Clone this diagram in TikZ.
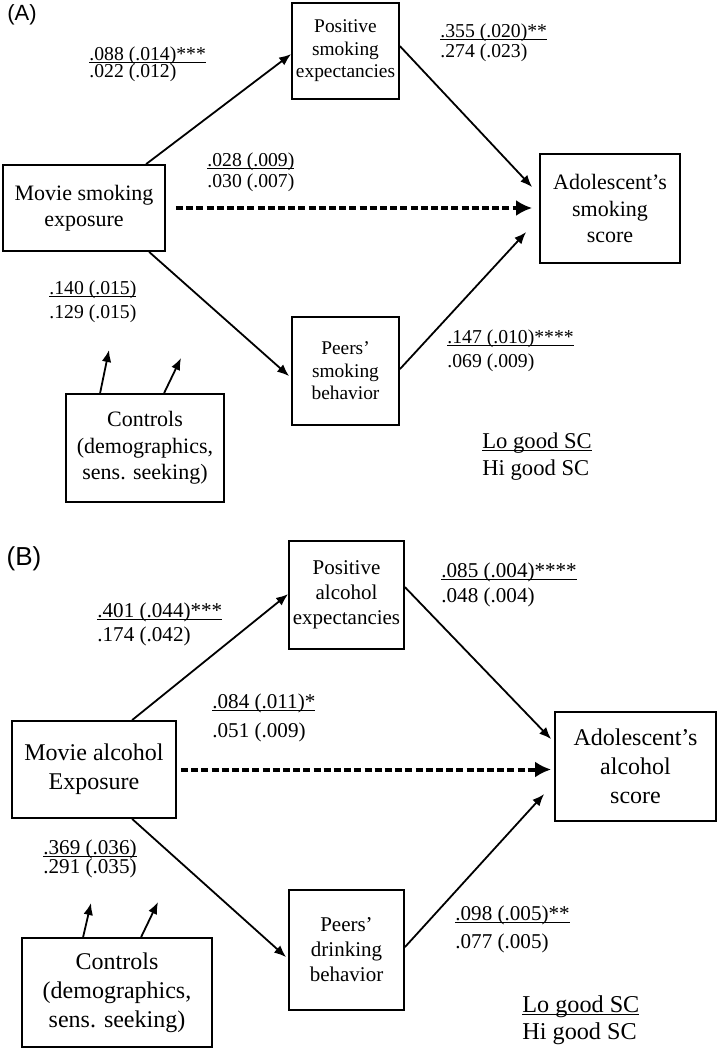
\documentclass[tikz,border=0pt]{standalone}
\usepackage{fontspec}
\setmainfont{Liberation Serif}
\newfontfamily\labsans{Liberation Sans}
\usetikzlibrary{arrows.meta,calc}
\newcommand\ulin[1]{\setbox0=\hbox{#1}\rlap{\rule[-1.6pt]{\wd0}{0.6pt}}\box0}
\begin{document}
\begin{tikzpicture}[x=0.5pt,y=-0.5pt,
 box/.style={draw,line width=0.9pt,inner sep=0pt,align=center},
 bigA/.style={box,font=\fontsize{11}{13.25}\selectfont},
 midA/.style={box,font=\fontsize{9.7}{11.25}\selectfont},
 bigB/.style={box,font=\fontsize{12}{14.5}\selectfont},
 midB/.style={box,font=\fontsize{10.5}{12.5}\selectfont},
 labA/.style={anchor=base west,inner sep=0pt,font=\fontsize{9.85}{12}\selectfont},
 labB/.style={anchor=base west,inner sep=0pt,font=\fontsize{10.55}{12}\selectfont},
 keyA/.style={anchor=base west,inner sep=0pt,font=\fontsize{11.3}{13}\selectfont},
 keyB/.style={anchor=base west,inner sep=0pt,font=\fontsize{12.1}{14}\selectfont},
 arr/.style={line width=0.9pt,-{Latex[length=6pt,width=4.8pt]}},
 dotarr/.style={line width=2pt,dash pattern=on 3.5pt off 1.6pt,-{Latex[length=8pt,width=8pt]}},
]
\useasboundingbox (0,0) rectangle (719,1050);

% ---------------- Panel A ----------------
\node[inner sep=0pt,font=\labsans\fontsize{11}{13}\selectfont] (tagA) at (22,15) {(A)};
\node[bigA,minimum width=81pt,minimum height=43pt] (movA) at (84,208) {Movie smoking\\exposure};
\node[midA,minimum width=53.5pt,minimum height=48pt] (posA) at (345.5,51) {Positive\\smoking\\expectancies};
\node[bigA,minimum width=70pt,minimum height=54.5pt] (adoA) at (610,208.5) {Adolescent’s\\smoking\\score};
\node[midA,minimum width=53.5pt,minimum height=54pt] (peerA) at (345.5,371) {Peers’\\smoking\\behavior};
\node[bigA,minimum width=79pt,minimum height=54pt] (ctrlA) at (145,448) {Controls\\(demographics,\\sens. seeking)};
\coordinate (cA1) at (109,350);
\coordinate (cA2) at (181,358);

\draw[arr] ($(movA.north west)+(144,0)$) -- ($(posA.north west)+(0,52)$);
\draw[arr] ($(posA.north east)+(0,44)$) -- ($(adoA.north west)+(-7,34)$);
\draw[dotarr] ($(movA.east)+(10,0)$) -- ($(movA.east -| adoA.west)+(-7,0)$);
\draw[arr] ($(movA.south west)+(147,0)$) -- ($(peerA.north west)+(-2,60)$);
\draw[arr] ($(peerA.north east)+(0,53)$) -- ($(adoA.north west)+(-13,79)$);
\draw[arr] ($(ctrlA.north west)+(35,0)$) -- (cA1);
\draw[arr] ($(ctrlA.north west)+(99,0)$) -- (cA2);

\node[labA] (a1t) at (89,60) {\ulin{.088 (.014)***}};
\node[labA] (a1b) at (89,77) {.022 (.012)};
\node[labA] (a2t) at (207,166) {\ulin{.028 (.009)}};
\node[labA] (a2b) at (207,187) {.030 (.007)};
\node[labA] (a3t) at (440,37) {\ulin{.355 (.020)**}};
\node[labA] (a3b) at (440,57) {.274 (.023)};
\node[labA] (a4t) at (49,294) {\ulin{.140 (.015)}};
\node[labA] (a4b) at (49,318) {.129 (.015)};
\node[labA] (a5t) at (447,343) {\ulin{.147 (.010)****}};
\node[labA] (a5b) at (447,367) {.069 (.009)};
\node[keyA] (a6t) at (482,448) {\ulin{Lo good SC}};
\node[keyA] (a6b) at (482,475) {Hi good SC};

% ---------------- Panel B ----------------
\node[inner sep=0pt,font=\labsans\fontsize{13}{15}\selectfont] (tagB) at (24,559) {(B)};
\node[bigB,minimum width=82pt,minimum height=48.5pt] (movB) at (94,769.5) {Movie alcohol\\Exposure};
\node[midB,minimum width=57.5pt,minimum height=54pt] (posB) at (346.5,595) {Positive\\alcohol\\expectancies};
\node[bigB,minimum width=80.5pt,minimum height=54.5pt] (adoB) at (635.5,766.5) {Adolescent’s\\alcohol\\score};
\node[midB,minimum width=57.5pt,minimum height=60pt] (peerB) at (346.5,950) {Peers’\\drinking\\behavior};
\node[bigB,minimum width=95pt,minimum height=54.5pt] (ctrlB) at (117,992.5) {Controls\\(demographics,\\sens. seeking)};
\coordinate (cB1) at (91,903);
\coordinate (cB2) at (158,902);

\draw[arr] ($(movB.north west)+(121,0)$) -- ($(posB.north west)+(0,54)$);
\draw[arr] ($(posB.north east)+(0,47)$) -- ($(adoB.north west)+(-3,28)$);
\draw[dotarr] ($(movB.east)+(4,0)$) -- ($(movB.east -| adoB.west)+(-3,0)$);
\draw[arr] ($(movB.south west)+(121,0)$) -- ($(peerB.north west)+(-2,68)$);
\draw[arr] ($(peerB.north east)+(0,58)$) -- ($(adoB.north west)+(-10,83)$);
\draw[arr] ($(ctrlB.north west)+(62,0)$) -- (cB1);
\draw[arr] ($(ctrlB.north west)+(120,0)$) -- (cB2);

\node[labB] (b1t) at (97,617) {\ulin{.401 (.044)***}};
\node[labB] (b1b) at (97,641) {.174 (.042)};
\node[labB] (b2t) at (212,708) {\ulin{.084 (.011)*}};
\node[labB] (b2b) at (212,737) {.051 (.009)};
\node[labB] (b3t) at (441,577) {\ulin{.085 (.004)****}};
\node[labB] (b3b) at (441,602) {.048 (.004)};
\node[labB] (b4t) at (43,854) {\ulin{.369 (.036)}};
\node[labB] (b4b) at (43,873) {.291 (.035)};
\node[labB] (b5t) at (455,920) {\ulin{.098 (.005)**}};
\node[labB] (b5b) at (455,948) {.077 (.005)};
\node[keyB] (b6t) at (522,1012) {\ulin{Lo good SC}};
\node[keyB] (b6b) at (522,1039) {Hi good SC};
\end{tikzpicture}
\end{document}
